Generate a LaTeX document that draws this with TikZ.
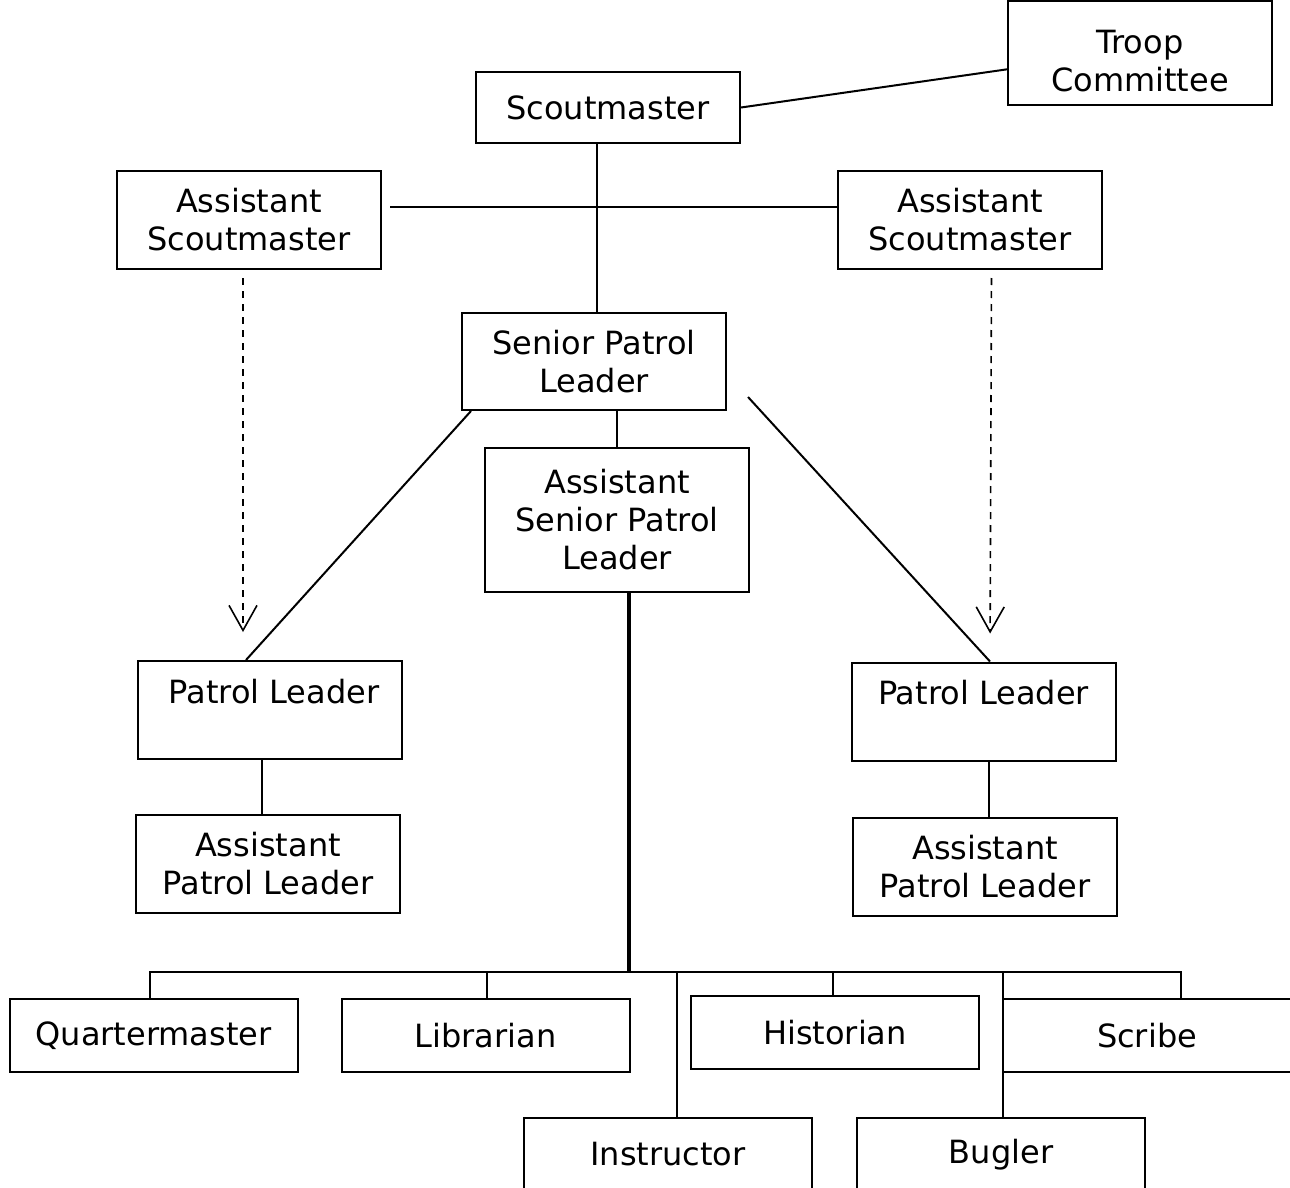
\documentclass[tikz,border=0pt]{standalone}
\usepackage{fontspec}
\setmainfont{DejaVu Sans}
\usepackage{tikz}
\usetikzlibrary{arrows.meta, positioning}
\newcommand{\rolefont}{\fontsize{16}{19}\selectfont}

\begin{document}
\begin{tikzpicture}[x=0.5pt, y=-0.5pt]
    \tikzstyle{role} = [rectangle, draw, line width=1pt, minimum width=132pt, minimum height=49pt, inner sep=0pt, align=center, font=\rolefont]
    \tikzstyle{duty} = [role, minimum width=144pt, minimum height=36.5pt]
    \tikzstyle{link} = [draw, line width=1pt]
    \tikzstyle{advise} = [draw, line width=0.8pt, dash pattern=on 3.5pt off 3pt, -{Straight Barb[length=12.5pt, width=14pt]}]

    \useasboundingbox (0,0) rectangle (1290,1188);

    % adult leaders
    \node [role, minimum height=52pt] (committee) at (1140,53) {\rule{0pt}{20pt}Troop\\Committee};
    \node [role, minimum height=35.5pt] (scoutmaster) at (608,107.5) {Scoutmaster};
    \node [role] (asmL) at (249,220) {Assistant\\Scoutmaster};
    \node [role, right=227.5pt of asmL] (asmR) {Assistant\\Scoutmaster};

    % youth leaders
    \node [role, minimum height=48.5pt] (spl) at (594,361.5) {Senior Patrol\\Leader};
    \node [role, minimum height=72pt, below=18pt of spl, xshift=11.5pt] (aspl) {Assistant\\Senior Patrol\\Leader};
    \node [role] (plL) at (269.5,710) {\hspace*{4.5pt}Patrol Leader\\~};
    \node [role] (plR) at (983.5,711.5) {Patrol Leader\\~};
    \node [role, below=27pt of plL, xshift=-0.75pt] (aplL) {Assistant\\Patrol Leader};
    \node [role, below=27.5pt of plR, xshift=0.75pt] (aplR) {Assistant\\Patrol Leader};

    % troop jobs
    \node [duty] (qm) at (153.5,1035.5) {Quartermaster};
    \node [duty, right=21pt of qm] (librarian) {Librarian};
    \node [duty] (historian) at (835,1032.5) {Historian};
    \node [duty] (scribe) at (1147,1035.5) {Scribe};
    \node [duty] (instructor) at (668,1154.5) {Instructor};
    \node [duty, right=21.5pt of instructor] (bugler) {Bugler};

    \coordinate (splR) at (748,397);
    \coordinate (bus) at (629,972);

    \path [link] (scoutmaster.east) -- (committee.187);
    \path [link] ([xshift=1.5pt]scoutmaster.south -| spl.north) -- ([xshift=1.5pt]spl.north);
    \path [link, shorten <=4pt] ([yshift=6.5pt]asmL.east) -- ([yshift=6.5pt]asmR.west);
    \path [link] (spl.south -| aspl.north) -- (aspl.north);
    \path [link] ([xshift=5pt]spl.south west) -- ([xshift=-11.75pt]plL.north);
    \path [link] (splR) -- ([xshift=3.25pt]plR.north);
    \path [advise, shorten <=4pt, shorten >=14pt] ([xshift=-3pt]asmL.south) -- ([xshift=-13.25pt]plL.north);
    \path [advise, shorten <=4pt, shorten >=14pt] ([xshift=10.75pt]asmR.south) -- ([xshift=3.25pt]plR.north);
    \path [link] ([xshift=-4pt]plL.south) -- ([xshift=-3.25pt]aplL.north);
    \path [link] ([xshift=2.75pt]plR.south) -- ([xshift=2pt]aplR.north);

    \path [draw, line width=2pt] ([xshift=6pt]aspl.south) -- (bus);
    \path [link] (bus) -| ([xshift=-1.75pt]qm.north);
    \path [link] (bus) -| ([xshift=0.5pt]librarian.north);
    \path [link] (bus) -| ([xshift=4.5pt]instructor.north);
    \path [link] (bus) -| ([xshift=-1pt]historian.north);
    \path [link] (bus) -| ([xshift=1pt]bugler.north);
    \path [link] (bus) -| ([xshift=17pt]scribe.north);
\end{tikzpicture}
\end{document}
